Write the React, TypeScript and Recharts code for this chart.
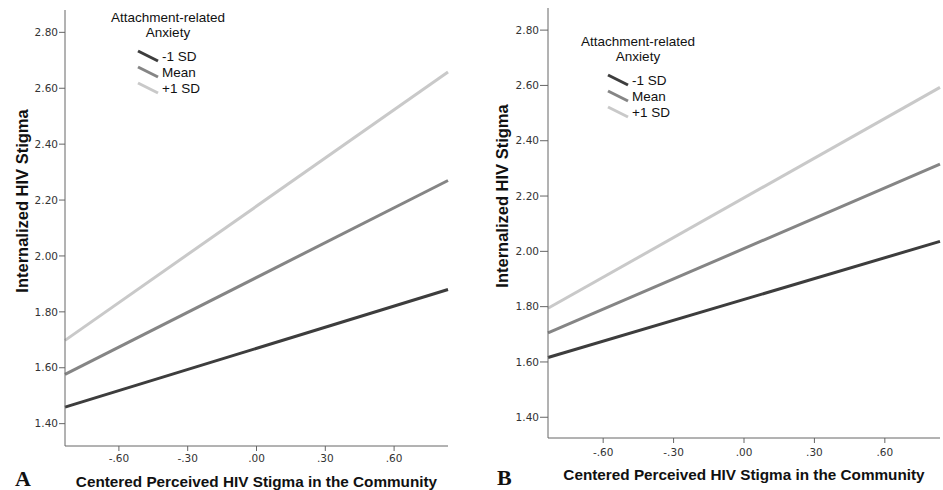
import React from 'react';
import { LineChart, Line, XAxis, YAxis, Legend } from 'recharts';

const xValues = [-0.835, 0.835];
const xTicks = [-0.6, -0.3, 0, 0.3, 0.6];
const yTicks = [1.4, 1.6, 1.8, 2.0, 2.2, 2.4, 2.6, 2.8];

// panel A
const aLow = [1.459, 1.88];
const aMean = [1.576, 2.27];
const aHigh = [1.698, 2.658];

// panel B
const bLow = [1.616, 2.036];
const bMean = [1.705, 2.315];
const bHigh = [1.794, 2.593];

const seriesNames = ['-1 SD', 'Mean', '+1 SD'];
const seriesColors = ['#3d3d3d', '#858585', '#c9c9c9'];

const sans = '"Liberation Sans", Arial, sans-serif';
const tickFont = { fontFamily: '"DejaVu Sans", Verdana, sans-serif', fontSize: 10.5, fill: '#333' };

const fmt = (v: number) => v.toFixed(2).replace('0.', '.');

const buildData = (low: number[], mean: number[], high: number[]) =>
  xValues.map((x, i) => ({ x, low: low[i], mean: mean[i], high: high[i] }));

const LegendBox = (props: any) => {
  const items = [...(props.payload || [])].sort(
    (a: any, b: any) => seriesNames.indexOf(a.value) - seriesNames.indexOf(b.value)
  );
  return (
    <div style={{ width: 136, fontFamily: sans, fontSize: 13.5, color: '#111' }}>
      <div style={{ textAlign: 'center', lineHeight: '15px' }}>
        Attachment-related
        <br />
        Anxiety
      </div>
      <div style={{ marginTop: 8 }}>
        {items.map((p: any) => (
          <div key={p.value} style={{ display: 'flex', alignItems: 'center', height: 16, paddingLeft: 37 }}>
            <svg width={22} height={14}>
              <line x1={1} y1={2} x2={21} y2={12} stroke={p.color} strokeWidth={3} />
            </svg>
            <span style={{ marginLeft: 3 }}>{p.value}</span>
          </div>
        ))}
      </div>
    </div>
  );
};

type PanelProps = {
  data: any[];
  width: number;
  top: number;
  right: number;
  yWidth: number;
  xHeight: number;
  yDomain: [number, number];
  yTickSize: number;
  xTickMargin: number;
  xLabelOffset: number;
  yLabelX: number;
  yLabelY: number;
  legendTop: number;
};

const Panel = (p: PanelProps) => (
  <LineChart
    width={p.width}
    height={490}
    data={p.data}
    margin={{ top: p.top, right: p.right, bottom: 0, left: 0 }}
  >
    <XAxis
      dataKey="x"
      type="number"
      domain={[-0.835, 0.835]}
      ticks={xTicks}
      tickFormatter={fmt}
      height={p.xHeight}
      tickSize={5}
      tickMargin={p.xTickMargin}
      stroke="#666"
      tick={tickFont}
      label={{
        value: 'Centered Perceived HIV Stigma in the Community',
        position: 'insideBottom',
        offset: p.xLabelOffset,
        style: { fontFamily: sans, fontSize: 15.3, fontWeight: 'bold', fill: '#111' },
      }}
    />
    <YAxis
      type="number"
      domain={p.yDomain}
      ticks={yTicks}
      tickFormatter={(v: number) => v.toFixed(2)}
      width={p.yWidth}
      tickSize={p.yTickSize}
      tickMargin={1}
      stroke="#666"
      tick={tickFont}
      label={{
        content: () => (
          <text
            x={p.yLabelX}
            y={p.yLabelY}
            transform={`rotate(-90, ${p.yLabelX}, ${p.yLabelY})`}
            textAnchor="middle"
            dominantBaseline="central"
            style={{ fontFamily: sans, fontSize: 16.5, fontWeight: 'bold', fill: '#111' }}
          >
            Internalized HIV Stigma
          </text>
        ),
      }}
    />
    <Legend
      layout="horizontal"
      verticalAlign="middle"
      align="center"
      content={<LegendBox />}
      wrapperStyle={{ left: 100, top: p.legendTop, width: 136 }}
    />
    <Line dataKey="low" name={seriesNames[0]} stroke={seriesColors[0]} strokeWidth={3} dot={false} isAnimationActive={false} />
    <Line dataKey="mean" name={seriesNames[1]} stroke={seriesColors[1]} strokeWidth={3} dot={false} isAnimationActive={false} />
    <Line dataKey="high" name={seriesNames[2]} stroke={seriesColors[2]} strokeWidth={3} dot={false} isAnimationActive={false} />
  </LineChart>
);

const letterStyle: React.CSSProperties = {
  position: 'absolute',
  fontFamily: '"Liberation Serif", "Times New Roman", serif',
  fontWeight: 'bold',
  fontSize: 22,
  lineHeight: '22px',
  color: '#111',
};

export default function App() {
  return (
    <div style={{ position: 'absolute', left: 0, top: 0, width: 943, height: 490, background: '#fff' }}>
      <div style={{ position: 'absolute', left: 0, top: 0 }}>
        <Panel
          data={buildData(aLow, aMean, aHigh)}
          width={470}
          top={10}
          right={22}
          yWidth={65}
          xHeight={44}
          yDomain={[1.32, 2.88]}
          yTickSize={6}
          xTickMargin={4}
          xLabelOffset={3}
          yLabelX={22}
          yLabelY={201}
          legendTop={10}
        />
      </div>
      <div style={{ position: 'absolute', left: 470, top: 0 }}>
        <Panel
          data={buildData(bLow, bMean, bHigh)}
          width={473}
          top={8}
          right={3}
          yWidth={78}
          xHeight={52}
          yDomain={[1.325, 2.88]}
          yTickSize={8}
          xTickMargin={6}
          xLabelOffset={10}
          yLabelX={32}
          yLabelY={196}
          legendTop={34}
        />
      </div>
      <div style={{ ...letterStyle, left: 15, top: 468 }}>A</div>
      <div style={{ ...letterStyle, left: 497, top: 467 }}>B</div>
    </div>
  );
}
